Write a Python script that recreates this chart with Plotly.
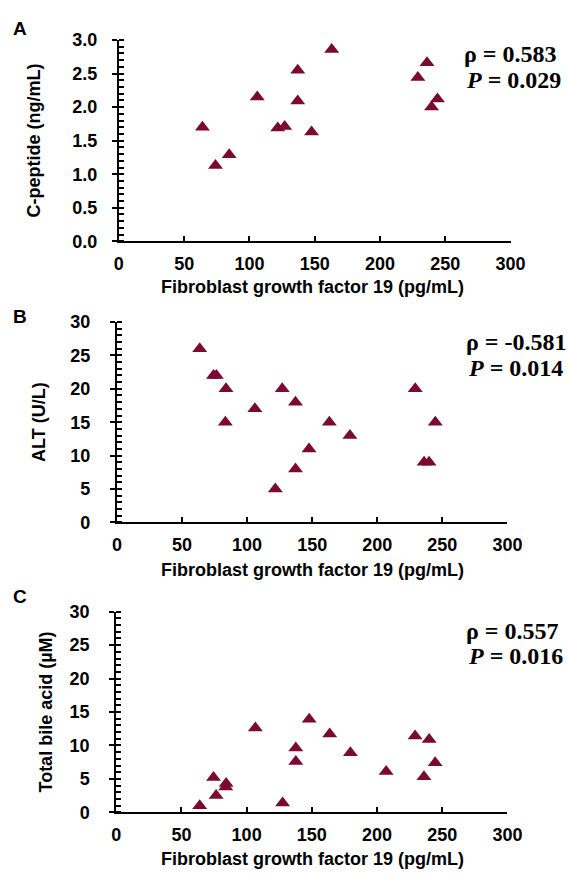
import plotly.graph_objects as go

# ---------------- data ----------------
fgf19_A = [64, 74, 84.5, 106, 121.7, 127, 137, 137, 147.6, 163, 229, 236, 239.5, 244]
cpep_A = [1.70, 1.13, 1.29, 2.15, 1.69, 1.71, 2.55, 2.09, 1.63, 2.86, 2.44, 2.66, 2.00, 2.12]

fgf19_B = [63.6, 74.2, 76.4, 83.8, 83.3, 106, 121.7, 127, 137.2, 137.2, 147.6, 163.2, 179, 229.2, 236, 239.8, 244.6]
alt_B = [26, 22, 22, 20, 15, 17, 5, 20, 18, 8, 11, 15, 13, 20, 9, 9, 15]

fgf19_C = [64, 74.6, 76.6, 84, 84.3, 106.7, 127.6, 137.7, 137.7, 148, 163.7, 179.6, 207, 229.2, 240, 236, 244.6]
tba_C = [1.0, 5.2, 2.5, 3.8, 4.3, 12.6, 1.4, 9.6, 7.6, 13.9, 11.7, 8.9, 6.1, 11.4, 10.9, 5.3, 7.4]

x_ticks = [0, 50, 100, 150, 200, 250, 300]
yA_ticks = [0.0, 0.5, 1.0, 1.5, 2.0, 2.5, 3.0]
yBC_ticks = [0, 5, 10, 15, 20, 25, 30]

rho_vals = ["0.583", "-0.581", "0.557"]
p_vals = ["0.029", "0.014", "0.016"]
ytitles = ["C-peptide (ng/mL)", "ALT (U/L)", "Total bile acid (µM)"]
letters = ["A", "B", "C"]
xtitle = "Fibroblast growth factor 19 (pg/mL)"

# ---------------- layout helpers ----------------
W, H = 569, 879
def px(x):
    return x / W
def py(y):
    return 1 - y / H

MARK = "#7a0a30"
SANS = "Liberation Sans"
SERIF = "Liberation Serif"

panels = [
    dict(x0=118, x1=524, yt=30.7, yb=236.7, rng=[0, 3.0], ticks=yA_ticks, minor=0.1, fmt=".1f",
         so=11, tx=30, ly=19, rho_y=45, p_y=72, sx=474, xt_y=283, data=(fgf19_A, cpep_A)),
    dict(x0=116, x1=520.7, yt=319.3, yb=524.3, rng=[0, 30], ticks=yBC_ticks, minor=1, fmt="d",
         so=16, tx=35, ly=314, rho_y=340, p_y=366, sx=476, xt_y=573, data=(fgf19_B, alt_B)),
    dict(x0=115.3, x1=520.7, yt=615.7, yb=821, rng=[0, 30], ticks=yBC_ticks, minor=1, fmt="d",
         so=16, tx=42, ly=600, rho_y=635, p_y=661, sx=476, xt_y=869, data=(fgf19_C, tba_C)),
]

fig = go.Figure()
annotations = []
tickfont = dict(family=SANS, size=18, color="black", weight="bold")

for i, p in enumerate(panels):
    n = i + 1
    xa = "x" if n == 1 else f"x{n}"
    ya = "y" if n == 1 else f"y{n}"
    xs, ys = p["data"]
    fig.add_trace(go.Scatter(
        x=xs, y=ys, mode="markers", xaxis=xa, yaxis=ya, showlegend=False,
        marker=dict(symbol="triangle-up", size=13, color=MARK, line=dict(width=0)),
        cliponaxis=False,
    ))
    xdom = [px(p["x0"]), px(p["x1"])]
    ydom = [py(p["yb"]), py(p["yt"])]
    xkey = "xaxis" if n == 1 else f"xaxis{n}"
    ykey = "yaxis" if n == 1 else f"yaxis{n}"
    fig.layout[xkey] = dict(
        domain=xdom, anchor=ya, range=[0, 300], tickvals=x_ticks,
        showline=True, linecolor="black", linewidth=2, showgrid=False, zeroline=False,
        ticks="inside", ticklen=5, tickwidth=2, tickcolor="black",
        tickfont=tickfont, ticklabelstandoff=5, fixedrange=True,
    )
    fig.layout[ykey] = dict(
        domain=ydom, anchor=xa, range=p["rng"], tickvals=p["ticks"], tickformat=p["fmt"],
        showline=True, linecolor="black", linewidth=2, showgrid=False, zeroline=False,
        ticks="outside", ticklen=5, tickwidth=2, tickcolor="black",
        tickfont=tickfont, ticklabelstandoff=p["so"],
        minor=dict(ticks="inside", ticklen=5, tickwidth=1.5, tickcolor="black",
                   dtick=p["minor"], tick0=0, showgrid=False),
        fixedrange=True,
    )
    # overlay axis for inside half of major ticks (cross ticks)
    m = n + 3
    okey = f"yaxis{m}"
    fig.layout[okey] = dict(
        domain=ydom, anchor=xa, overlaying=ya, range=p["rng"], tickvals=p["ticks"],
        showline=False, showgrid=False, zeroline=False, showticklabels=False,
        ticks="inside", ticklen=5, tickwidth=2, tickcolor="black", fixedrange=True,
    )
    fig.add_trace(go.Scatter(x=[None], y=[None], xaxis=xa, yaxis=f"y{m}",
                             showlegend=False, hoverinfo="skip", mode="markers"))

    # y-axis title
    annotations.append(dict(
        text=ytitles[i], x=px(p["tx"]), y=py((p["yt"] + p["yb"]) / 2), xref="paper", yref="paper",
        xanchor="center", yanchor="middle", textangle=-90, showarrow=False,
        font=dict(family=SANS, size=18, color="black", weight="bold"),
    ))
    # x-axis title
    annotations.append(dict(
        text=xtitle, x=px(319), y=py(p["xt_y"]), xref="paper", yref="paper",
        xanchor="center", yanchor="middle", showarrow=False,
        font=dict(family=SANS, size=18, color="black", weight="bold"),
    ))
    # panel letter
    annotations.append(dict(
        text=letters[i], x=px(16), y=py(p["ly"]), xref="paper", yref="paper",
        xanchor="center", yanchor="middle", showarrow=False,
        font=dict(family=SANS, size=19, color="black", weight="bold"),
    ))
    # statistics
    annotations.append(dict(
        text=f"ρ = {rho_vals[i]}", x=px(p["sx"]), y=py(p["rho_y"]), xref="paper", yref="paper",
        xanchor="left", yanchor="middle", align="left", showarrow=False,
        font=dict(family=SERIF, size=24, color="black", weight="bold"),
    ))
    annotations.append(dict(
        text=f"<i>P</i> = {p_vals[i]}", x=px(p["sx"] + 2), y=py(p["p_y"]), xref="paper", yref="paper",
        xanchor="left", yanchor="middle", align="left", showarrow=False,
        font=dict(family=SERIF, size=24, color="black", weight="bold"),
    ))

fig.update_layout(
    width=W, height=H, margin=dict(l=0, r=0, t=0, b=0),
    paper_bgcolor="white", plot_bgcolor="white",
    annotations=annotations, showlegend=False,
)

fig.write_html("out.html")
